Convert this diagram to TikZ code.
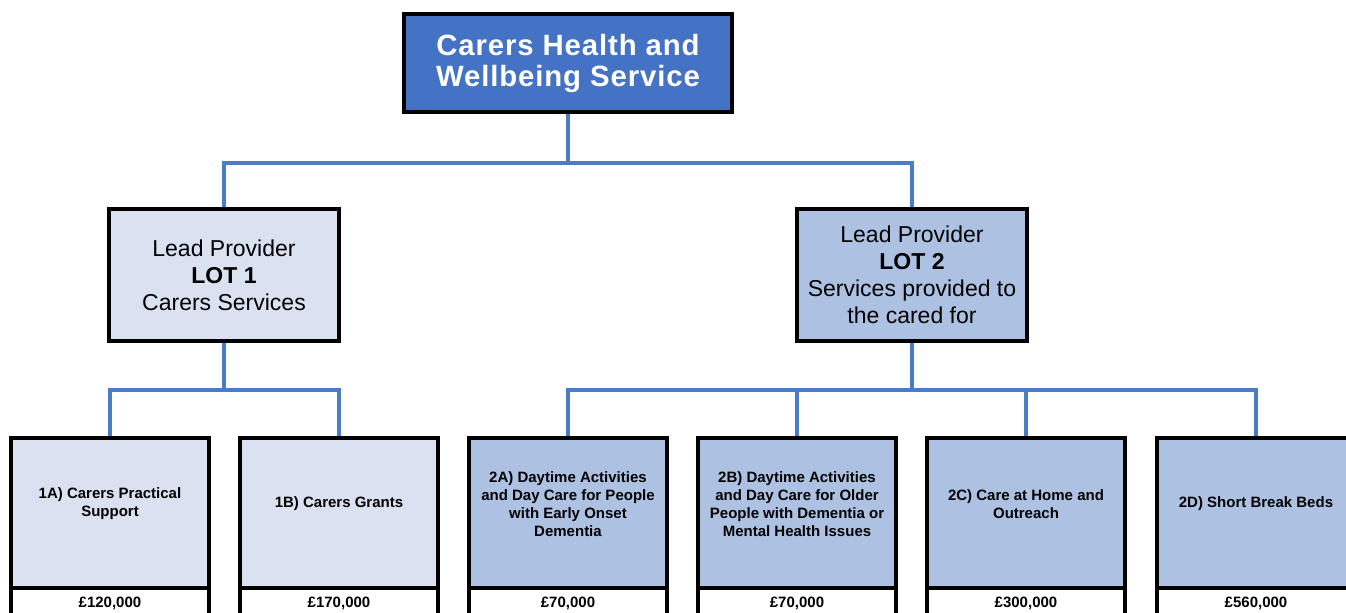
\documentclass[tikz,border=0pt]{standalone}
\usepackage{fontspec}
\setmainfont{Liberation Sans}
\usepackage{xcolor}
\usetikzlibrary{positioning}
\definecolor{topblue}{RGB}{68,114,196}
\definecolor{lotpale}{RGB}{218,225,241}
\definecolor{lotmid}{RGB}{173,194,227}
\definecolor{linkblue}{RGB}{74,124,200}

\begin{document}
\begin{tikzpicture}[x=0.75pt,y=-0.75pt]
            \tikzstyle{head} = [rectangle, draw, line width=2.6pt, fill=topblue, text=white, minimum width=246pt, minimum height=73.5pt, align=center, font=\fontsize{22}{23.25}\selectfont\bfseries\addfontfeature{LetterSpace=3}]
            \tikzstyle{lot} = [rectangle, draw, line width=2.6pt, minimum width=172.5pt, minimum height=99pt, align=center, font=\fontsize{17.25}{20.25}\selectfont]
            \tikzstyle{sub} = [rectangle, draw, line width=2.6pt, minimum width=148.5pt, minimum height=112.5pt]
            \tikzstyle{subtext} = [align=center, font=\fontsize{11.25}{13.5}\selectfont\bfseries]
            \tikzstyle{cost} = [rectangle, draw, line width=2.6pt, fill=white, minimum width=148.5pt, minimum height=22.5pt, font=\fontsize{11.25}{13.5}\selectfont\bfseries]
            \tikzstyle{link} = [draw=linkblue, line width=2.3pt]

            \useasboundingbox (0,0) rectangle (1346,613);
            \clip (0,0) rectangle (1346,613);

            \node [head] (carers) at (568,63) {Carers Health and\\Wellbeing Service};
            \node [lot, fill=lotpale] (lot1) at (224,275) {Lead Provider\\\textbf{LOT 1}\\Carers Services};
            \node [lot, fill=lotmid] (lot2) at (912,275) {Lead Provider\\\textbf{LOT 2}\\Services provided to\\the cared for};

            \node [sub, fill=lotpale] (s1a) at (110,513) {};
            \node [sub, fill=lotpale] (s1b) at (339,513) {};
            \node [sub, fill=lotmid] (s2a) at (568,513) {};
            \node [sub, fill=lotmid] (s2b) at (797,513) {};
            \node [sub, fill=lotmid] (s2c) at (1026,513) {};
            \node [sub, fill=lotmid] (s2d) at (1256,513) {};

            \node [subtext] (s1at) at ([yshift=7pt]s1a.center) {1A) Carers Practical\\Support};
            \node [subtext] (s1bt) at ([yshift=7pt]s1b.center) {1B) Carers Grants};
            \node [subtext] (s2at) at ([yshift=7pt]s2a.center) {2A) Daytime Activities\\and Day Care for People\\with Early Onset\\Dementia};
            \node [subtext] (s2bt) at ([yshift=7pt]s2b.center) {2B) Daytime Activities\\and Day Care for Older\\People with Dementia or\\Mental Health Issues};
            \node [subtext] (s2ct) at ([yshift=7pt]s2c.center) {2C) Care at Home and\\Outreach};
            \node [subtext] (s2dt) at ([yshift=7pt]s2d.center) {2D) Short Break Beds};

            \node [cost, below=-2.6pt of s1a] (c1a) {£120,000};
            \node [cost, below=-2.6pt of s1b] (c1b) {£170,000};
            \node [cost, below=-2.6pt of s2a] (c2a) {£70,000};
            \node [cost, below=-2.6pt of s2b] (c2b) {£70,000};
            \node [cost, below=-2.6pt of s2c] (c2c) {£300,000};
            \node [cost, below=-2.6pt of s2d] (c2d) {£560,000};

            \coordinate (bus0) at (568,163);
            \coordinate (bus1) at (224,390);
            \coordinate (bus2) at (912,390);

            \draw [link] (carers) -- (bus0) -| (lot1);
            \draw [link] (bus0) -| (lot2);
            \draw [link] (lot1) -- (bus1) -| (s1a);
            \draw [link] (bus1) -| (s1b);
            \draw [link] (lot2) -- (bus2) -| (s2a);
            \draw [link] (bus2) -| (s2b);
            \draw [link] (bus2) -| (s2c);
            \draw [link] (bus2) -| (s2d);
        \end{tikzpicture}
\end{document}
